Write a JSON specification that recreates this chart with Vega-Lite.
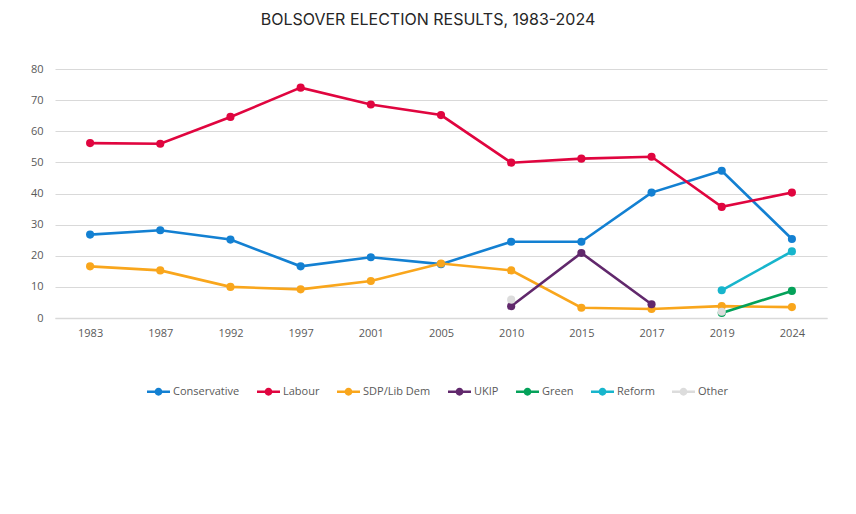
{
  "$schema": "https://vega.github.io/schema/vega-lite/v6.json",
  "width": 772,
  "height": 249,
  "autosize": {"type": "none"},
  "padding": {"left": 55, "top": 69, "right": 29, "bottom": 196},
  "background": "white",
  "title": {
    "text": "BOLSOVER ELECTION RESULTS, 1983-2024",
    "font": "Inter",
    "fontSize": 16,
    "fontWeight": "normal",
    "color": "#262626",
    "offset": 35,
    "dx": -13
  },
  "data": {
    "values": [
      {"year": "1983", "party": "Conservative", "pct": 26.8},
      {"year": "1987", "party": "Conservative", "pct": 28.2},
      {"year": "1992", "party": "Conservative", "pct": 25.2},
      {"year": "1997", "party": "Conservative", "pct": 16.6},
      {"year": "2001", "party": "Conservative", "pct": 19.5},
      {"year": "2005", "party": "Conservative", "pct": 17.3},
      {"year": "2010", "party": "Conservative", "pct": 24.5},
      {"year": "2015", "party": "Conservative", "pct": 24.5},
      {"year": "2017", "party": "Conservative", "pct": 40.3},
      {"year": "2019", "party": "Conservative", "pct": 47.3},
      {"year": "2024", "party": "Conservative", "pct": 25.4},
      {"year": "1983", "party": "Labour", "pct": 56.2},
      {"year": "1987", "party": "Labour", "pct": 56.0},
      {"year": "1992", "party": "Labour", "pct": 64.6},
      {"year": "1997", "party": "Labour", "pct": 74.0},
      {"year": "2001", "party": "Labour", "pct": 68.6},
      {"year": "2005", "party": "Labour", "pct": 65.2},
      {"year": "2010", "party": "Labour", "pct": 49.9},
      {"year": "2015", "party": "Labour", "pct": 51.2},
      {"year": "2017", "party": "Labour", "pct": 51.8},
      {"year": "2019", "party": "Labour", "pct": 35.7},
      {"year": "2024", "party": "Labour", "pct": 40.3},
      {"year": "1983", "party": "SDP/Lib Dem", "pct": 16.6},
      {"year": "1987", "party": "SDP/Lib Dem", "pct": 15.3},
      {"year": "1992", "party": "SDP/Lib Dem", "pct": 10.0},
      {"year": "1997", "party": "SDP/Lib Dem", "pct": 9.2},
      {"year": "2001", "party": "SDP/Lib Dem", "pct": 11.9},
      {"year": "2005", "party": "SDP/Lib Dem", "pct": 17.5},
      {"year": "2010", "party": "SDP/Lib Dem", "pct": 15.3},
      {"year": "2015", "party": "SDP/Lib Dem", "pct": 3.3},
      {"year": "2017", "party": "SDP/Lib Dem", "pct": 2.9},
      {"year": "2019", "party": "SDP/Lib Dem", "pct": 3.8},
      {"year": "2024", "party": "SDP/Lib Dem", "pct": 3.5},
      {"year": "2010", "party": "UKIP", "pct": 3.8},
      {"year": "2015", "party": "UKIP", "pct": 20.9},
      {"year": "2017", "party": "UKIP", "pct": 4.4},
      {"year": "2019", "party": "Green", "pct": 1.6},
      {"year": "2024", "party": "Green", "pct": 8.7},
      {"year": "2019", "party": "Reform", "pct": 8.9},
      {"year": "2024", "party": "Reform", "pct": 21.4},
      {"year": "2010", "party": "Other", "pct": 5.9},
      {"year": "2015", "party": "Other", "pct": null},
      {"year": "2017", "party": "Other", "pct": null},
      {"year": "2019", "party": "Other", "pct": 2.0}
    ]
  },
  "encoding": {
    "x": {
      "field": "year",
      "type": "ordinal",
      "scale": {"type": "point", "padding": 0.5},
      "axis": {
        "title": null,
        "labelAngle": 0,
        "ticks": false,
        "labelPadding": 9,
        "labelFontSize": 11,
        "domainColor": "#d9d9d9",
        "domainWidth": 1.5
      }
    },
    "y": {
      "field": "pct",
      "type": "quantitative",
      "scale": {"domain": [0, 80]},
      "axis": {
        "title": null,
        "tickCount": 8,
        "ticks": false,
        "domain": false,
        "labelPadding": 12,
        "labelFontSize": 11,
        "gridColor": "#d9d9d9",
        "gridWidth": 1.2
      }
    },
    "color": {
      "field": "party",
      "type": "nominal",
      "scale": {
        "domain": ["Conservative", "Labour", "SDP/Lib Dem", "UKIP", "Green", "Reform", "Other"],
        "range": ["#1380d2", "#e0053f", "#f9a61c", "#61286c", "#04a25a", "#17b5cc", "#dcdcdc"]
      },
      "legend": {
        "title": null,
        "orient": "none",
        "direction": "horizontal",
        "legendX": 92,
        "legendY": 311,
        "symbolType": "M-1,-0.1L1,-0.1L1,0.1L-1,0.1Z M-0.34,0A0.34,0.34 0 1,1 0.34,0A0.34,0.34 0 1,1 -0.34,0Z",
        "symbolSize": 529,
        "symbolStrokeWidth": 0,
        "labelOffset": 3,
        "columnPadding": 17,
        "labelFontSize": 11,
        "labelColor": "#595959",
        "encode": {
          "symbols": {"update": {"fill": {"scale": "color", "field": "value"}, "opacity": {"value": 1}}}
        }
      }
    }
  },
  "layer": [
    {
      "mark": {"type": "line", "strokeWidth": 2.6, "invalid": "break-paths-filter-domains"}
    },
    {
      "mark": {"type": "point", "filled": true, "size": 66, "opacity": 1}
    }
  ],
  "config": {
    "font": "Open Sans",
    "view": {"stroke": null},
    "axis": {"labelColor": "#595959", "labelFont": "Open Sans"},
    "legend": {"labelFont": "Open Sans"}
  }
}
